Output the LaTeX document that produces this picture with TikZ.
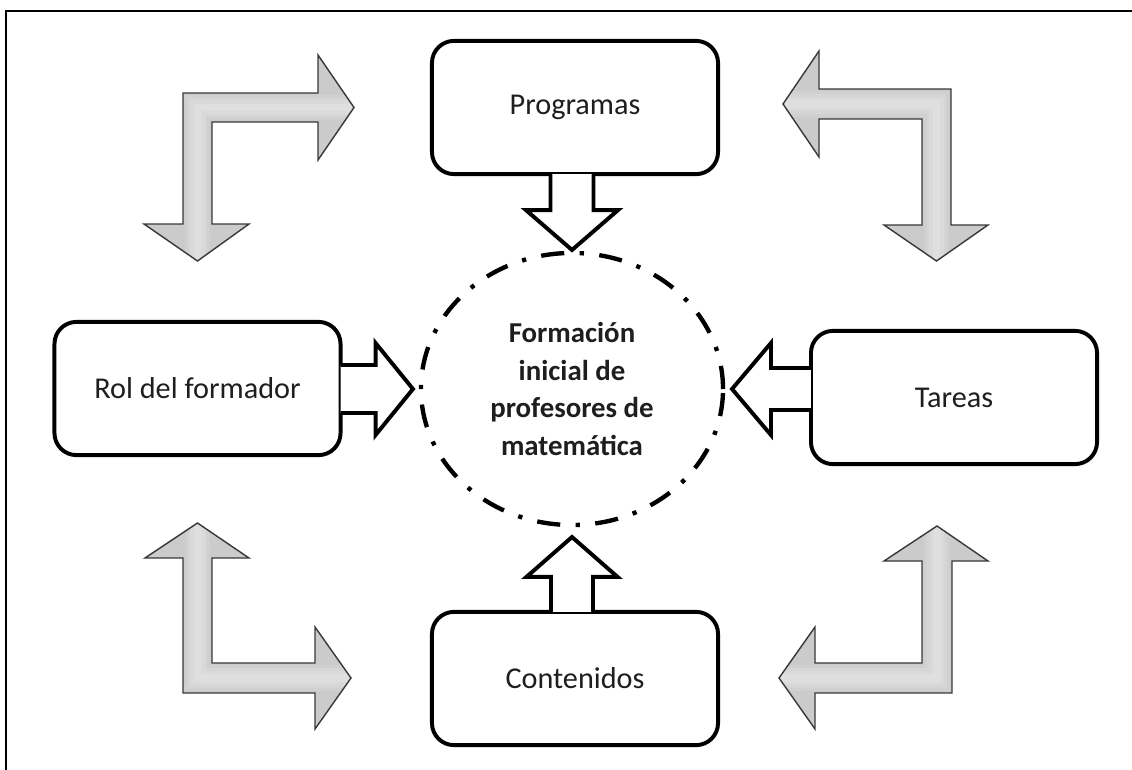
\documentclass[tikz,border=0pt]{standalone}
\usepackage{fontspec}
\setmainfont{Carlito}
\usetikzlibrary{calc,shapes.geometric}

\definecolor{bendA}{HTML}{CBCBCB}
\definecolor{bendB}{HTML}{D0D0D0}
\definecolor{bendC}{HTML}{D5D5D5}
\definecolor{bendD}{HTML}{DADADA}
\definecolor{bendE}{HTML}{DFDFDF}
\definecolor{inktext}{HTML}{1E1E1E}

% L-shaped grey arrow: #1 outline polygon, #2 centre line used for the soft highlight
\newcommand{\bentarrow}[2]{%
  \fill[bendA] #1;
  \begin{scope}
    \clip #1;
    \draw[bendB, line width=18pt, line join=miter] #2;
    \draw[bendC, line width=14pt, line join=miter] #2;
    \draw[bendD, line width=10pt, line join=miter] #2;
    \draw[bendE, line width=5pt, line join=miter] #2;
  \end{scope}
  \draw[bendedge] #1;
}

\begin{document}
\begin{tikzpicture}[x=0.025cm, y=-0.025cm,
  box/.style={draw, line width=2.8pt, rounded corners=0.55cm, outer sep=0pt,
    minimum width=7.15cm, minimum height=3.33cm, fill=white, text=inktext,
    font=\fontsize{21.5}{25}\selectfont, align=center, inner sep=0pt},
  hub/.style={ellipse, draw, line width=3.1pt, outer sep=0pt,
    dash pattern=on 16.5pt off 11pt on 3pt off 11pt,
    minimum width=7.55cm, minimum height=6.8cm, inner sep=0pt, align=center,
    text=inktext, font=\fontsize{20.5}{26.6}\selectfont\bfseries},
  blockarrow/.style={draw, fill=white, line width=2.8pt, line join=miter},
  bendedge/.style={draw=black!78, line width=1pt, line join=miter},
]
\useasboundingbox (0,0) rectangle (1132,770);

% frame
\draw[line width=1.4pt] (6,770) -- (6,11) -- (1132,11);

% boxes and the central topic
\node[box] (prog) at (575,107.5) {Programas};
\node[box] (rol)  at (197.5,388.5) {Rol del formador};
\node[box] (tar)  at (954,397.5) {Tareas};
\node[box] (cont) at (575,678.5) {Contenidos};
\node[hub] (hub)  at (572,389) {Formación\\inicial de\\profesores de\\matemática};

% white block arrows into the centre
\draw[blockarrow] ($(hub.north |- prog.south)+(-21.5,0)$) -- ++(0,36) -- ++(-24.5,0)
  -- ($(hub.north)+(0,-3)$) -- ($(hub.north |- prog.south)+(46,36)$) -- ++(-24.5,0) -- ++(0,-36);
\draw[blockarrow] ($(hub.south |- cont.north)+(-21,0)$) -- ++(0,-35) -- ++(-24.5,0)
  -- ($(hub.south)+(0,12)$) -- ($(hub.south |- cont.north)+(45.5,-35)$) -- ++(-24.5,0) -- ++(0,35);
\draw[blockarrow] ($(rol.east |- hub.west)+(0,-24)$) -- ++(35,0) -- ++(0,-22)
  -- ($(hub.west)+(-8,0)$) -- ($(rol.east |- hub.west)+(35,46)$) -- ++(0,-22) -- ++(-35,0);
\draw[blockarrow] ($(tar.west |- hub.east)+(0,-21)$) -- ++(-40,0) -- ++(0,-25)
  -- ($(hub.east)+(9,0)$) -- ($(tar.west |- hub.east)+(-40,46)$) -- ++(0,-25) -- ++(40,0);

% grey corner arrows
\bentarrow{(183,93) -- (318,93) -- (318,55) -- (354,107.5) -- (318,160) -- (318,122)
  -- (212,122) -- (212,224) -- (249,224) -- (197.5,261) -- (144,224) -- (183,224) -- cycle}
  {(354,107.5) -- (197.5,107.5) -- (197.5,261)}
\bentarrow{(951,89) -- (951,225) -- (988,225) -- (936.5,261) -- (884,225) -- (922,225)
  -- (922,119) -- (819,119) -- (819,157) -- (783,104) -- (819,51) -- (819,89) -- cycle}
  {(783,104) -- (936.5,104) -- (936.5,261)}
\bentarrow{(183,693) -- (183,558) -- (145,558) -- (197.5,523) -- (249,558) -- (212,558)
  -- (212,663) -- (315,663) -- (315,627) -- (351,678) -- (315,729) -- (315,693) -- cycle}
  {(197.5,523) -- (197.5,678) -- (351,678)}
\bentarrow{(952,693) -- (815,693) -- (815,729) -- (779,678) -- (815,627) -- (815,663)
  -- (922,663) -- (922,561) -- (884,561) -- (937,526) -- (988,561) -- (952,561) -- cycle}
  {(779,678) -- (937,678) -- (937,526)}
\end{tikzpicture}
\end{document}
